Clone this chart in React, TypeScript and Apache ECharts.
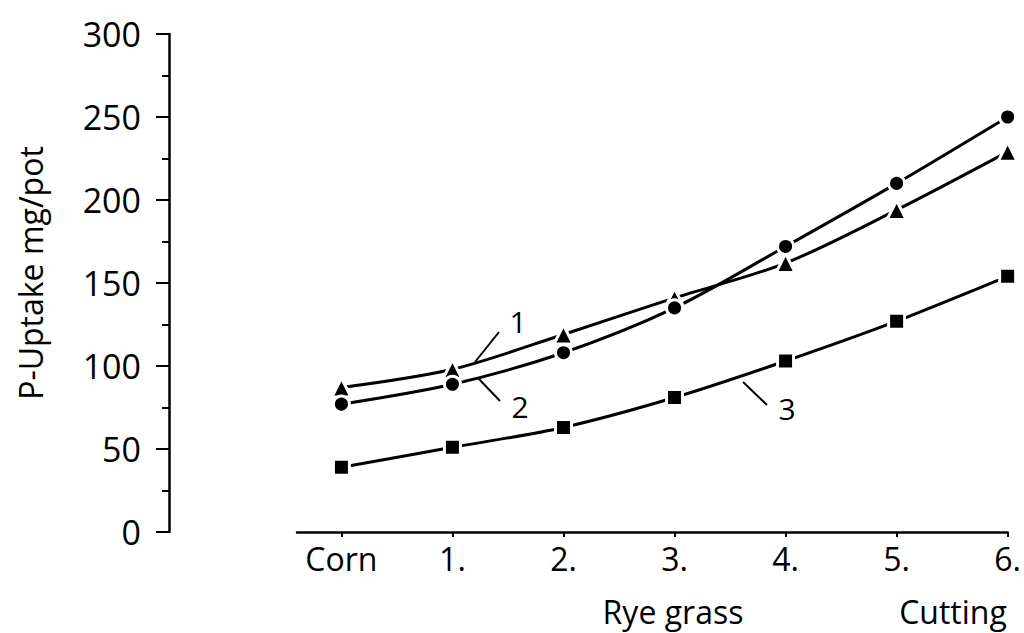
import React, { useEffect, useRef } from "react";
import * as echarts from "echarts";

const categories = ["Corn", "1.", "2.", "3.", "4.", "5.", "6."];
const series1 = [87, 98, 119, 141, 162, 194, 229];
const series2 = [77, 89, 108, 135, 172, 210, 250];
const series3 = [39, 51, 63, 81, 103, 127, 154];
const yTicks = [0, 50, 100, 150, 200, 250, 300];
const yTitle = "P-Uptake mg/pot";
const xSubLabels = ["Rye grass", "Cutting"];
const curveLabels = ["1", "2", "3"];

const FONT = "'Open Sans', 'DejaVu Sans', sans-serif";

function toPairs(vals: number[]) {
  return vals.map((v, i) => [i, v]);
}

export default function App() {
  const ref = useRef<HTMLDivElement>(null);
  useEffect(() => {
    if (!ref.current) return;
    const chart = echarts.init(ref.current, null, { renderer: "svg" });
    const idx = categories.map((_, i) => i);
    const mkSeries = (name: string, data: number[], symbol: string, size: number) => ({
      name,
      type: "line",
      data: toPairs(data),
      symbol,
      symbolSize: size,
      smooth: 0.3,
      lineStyle: { color: "#000", width: 3 },
      itemStyle: { color: "#000", borderColor: "#fff", borderWidth: 3 },
      emphasis: { disabled: true },
    });
    chart.setOption({
      animation: false,
      backgroundColor: "#fff",
      grid: { left: 297, right: 15, top: 34, bottom: 101 },
      xAxis: {
        type: "value",
        min: -0.4,
        max: 6,
        axisLine: { show: true, onZero: false, lineStyle: { color: "#000", width: 2.5 } },
        axisTick: { show: true, customValues: idx, length: 5, lineStyle: { color: "#000", width: 2 } },
        axisLabel: {
          customValues: idx,
          formatter: (v: number) => categories[Math.round(v)] ?? "",
          color: "#000",
          fontSize: 32,
          fontFamily: FONT,
          margin: 10,
        },
        splitLine: { show: false },
      },
      yAxis: {
        type: "value",
        min: 0,
        max: 300,
        interval: 50,
        offset: 128,
        axisLine: { show: true, onZero: false, lineStyle: { color: "#000", width: 2.5 } },
        axisTick: { show: true, length: 13, lineStyle: { color: "#000", width: 2 } },
        minorTick: { show: true, splitNumber: 2, length: 7, lineStyle: { color: "#000", width: 2 } },
        axisLabel: {
          color: "#000",
          fontSize: 34,
          fontFamily: FONT,
          margin: 28,
          formatter: (v: number) => (yTicks.includes(v) ? String(v) : ""),
        },
        splitLine: { show: false },
        minorSplitLine: { show: false },
      },
      series: [
        mkSeries("1", series1, "triangle", 19),
        mkSeries("2", series2, "circle", 16),
        mkSeries("3", series3, "rect", 16),
      ],
      graphic: [
        {
          type: "text",
          x: 30,
          y: 273,
          rotation: Math.PI / 2,
          style: { text: yTitle, font: `32px ${FONT}`, fill: "#000", align: "center", verticalAlign: "middle" },
        },
        {
          type: "text",
          x: 673,
          y: 611,
          style: { text: xSubLabels[0], font: `32px ${FONT}`, fill: "#000", align: "center", verticalAlign: "middle" },
        },
        {
          type: "text",
          x: 953,
          y: 611,
          style: { text: xSubLabels[1], font: `32px ${FONT}`, fill: "#000", align: "center", verticalAlign: "middle" },
        },
        {
          type: "text",
          x: 518,
          y: 321,
          style: { text: curveLabels[0], font: `30px ${FONT}`, fill: "#000", align: "center", verticalAlign: "middle" },
        },
        {
          type: "text",
          x: 520,
          y: 406,
          style: { text: curveLabels[1], font: `30px ${FONT}`, fill: "#000", align: "center", verticalAlign: "middle" },
        },
        {
          type: "text",
          x: 787,
          y: 408,
          style: { text: curveLabels[2], font: `30px ${FONT}`, fill: "#000", align: "center", verticalAlign: "middle" },
        },
        { type: "line", shape: { x1: 499, y1: 332, x2: 475, y2: 362 }, style: { stroke: "#000", lineWidth: 2 } },
        { type: "line", shape: { x1: 478, y1: 378, x2: 500, y2: 401 }, style: { stroke: "#000", lineWidth: 2 } },
        { type: "line", shape: { x1: 743, y1: 382, x2: 767, y2: 405 }, style: { stroke: "#000", lineWidth: 2 } },
      ],
    });
    return () => chart.dispose();
  }, []);
  return (
    <div
      ref={ref}
      style={{ position: "fixed", left: 0, top: 0, width: 1024, height: 633, background: "#fff" }}
    />
  );
}
